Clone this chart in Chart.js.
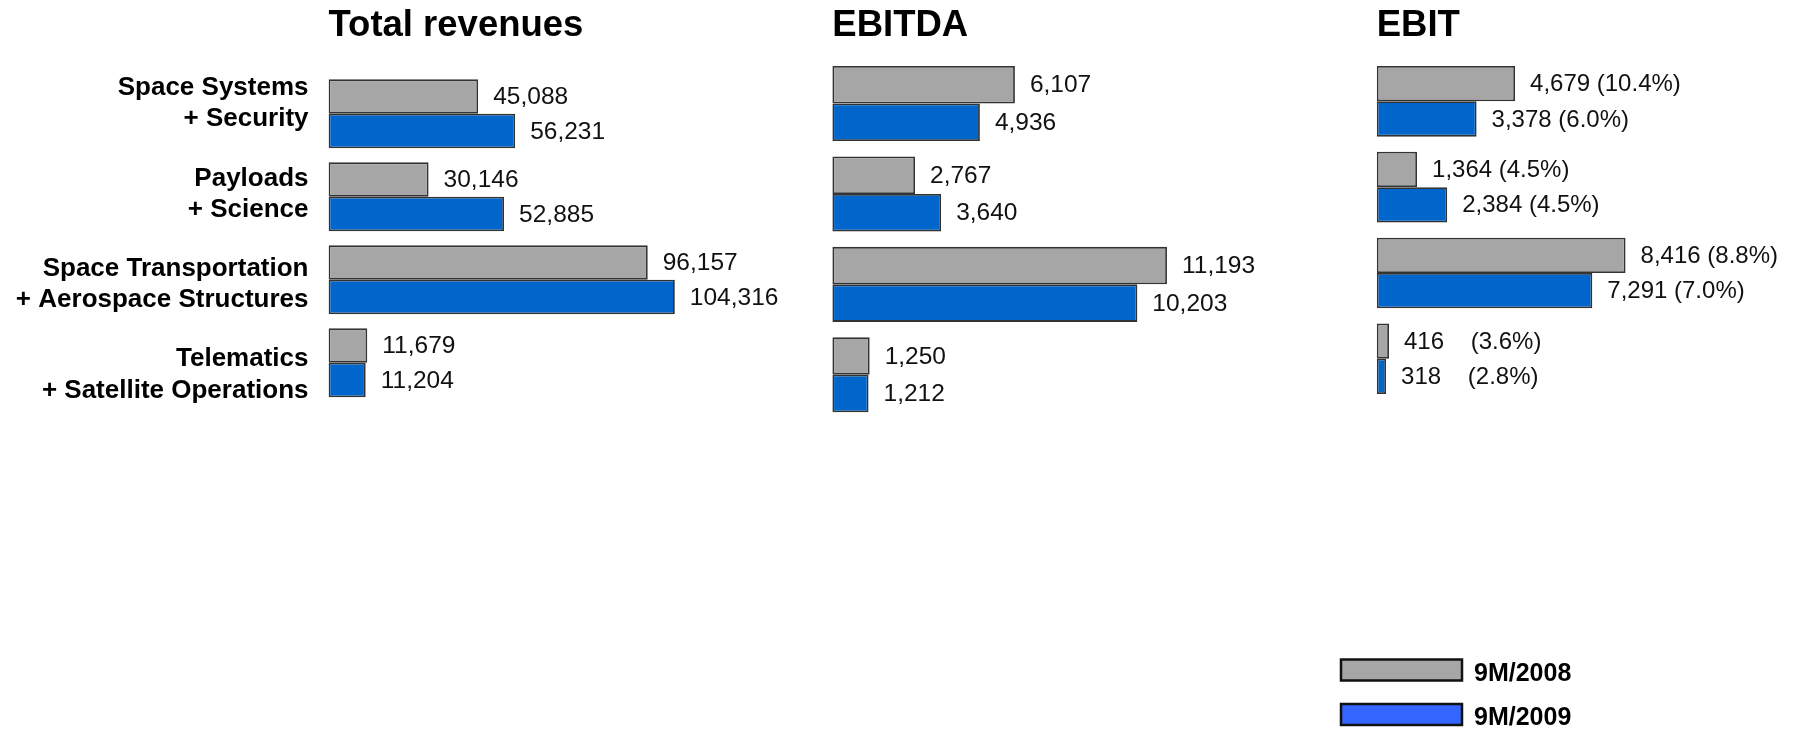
<!DOCTYPE html>
<html>
<head>
<meta charset="utf-8">
<script src="https://cdn.jsdelivr.net/npm/chart.js@4/dist/chart.umd.min.js"></script>
<style>
  html, body { margin: 0; padding: 0; background: #ffffff; }
  #wrap { position: relative; width: 1797px; height: 729px; overflow: hidden; }
  #wrap canvas { position: absolute; left: 0; top: 0; }
</style>
</head>
<body>
<div id="wrap">
  <canvas id="revenues" width="1797" height="729"></canvas>
  <canvas id="ebitda" width="1797" height="729"></canvas>
  <canvas id="ebit" width="1797" height="729"></canvas>
</div>
<script>
// Business segments (two-line labels) and the two reporting periods
const segments = [
  ['Space Systems', '+ Security'],
  ['Payloads', '+ Science'],
  ['Space Transportation', '+ Aerospace Structures'],
  ['Telematics', '+ Satellite Operations']
];
const periods = ['9M/2008', '9M/2009'];

// Figures per segment (same order as segments)
const revenue2008 = [45088, 30146, 96157, 11679];
const revenue2009 = [56231, 52885, 104316, 11204];
const ebitda2008 = [6107, 2767, 11193, 1250];
const ebitda2009 = [4936, 3640, 10203, 1212];
const ebit2008 = [4679, 1364, 8416, 416];
const ebit2009 = [3378, 2384, 7291, 318];
const ebitMargin2008 = [10.4, 4.5, 8.8, 3.6];
const ebitMargin2009 = [6.0, 4.5, 7.0, 2.8];

const W = 1797, H = 729;
const FONT = '"Liberation Sans", Arial, Helvetica, sans-serif';
const GREY = '#a6a6a6', BLUE = '#0066cc';
const LEGEND_COLORS = ['#a6a6a6', '#3366ff'];
const CATEGORY_RIGHT = 308.5;   // right edge of the segment names

const fmt = v => v.toLocaleString('en-US');

// Writes each bar's figure just past the end of the bar
const valueLabels = {
  id: 'valueLabels',
  afterDatasetsDraw(chart, args, opts) {
    const ctx = chart.ctx;
    ctx.save();
    ctx.font = `${opts.size}px ${FONT}`;
    ctx.fillStyle = '#111111';
    ctx.textAlign = 'left';
    ctx.textBaseline = 'middle';
    chart.data.datasets.forEach((ds, di) => {
      const meta = chart.getDatasetMeta(di);
      meta.data.forEach((bar, i) => {
        ctx.fillText(opts.text(di, i), bar.x + 15, bar.y + 1);
      });
    });
    ctx.restore();
  }
};

// Bold heading above each panel, aligned with the bars' base line
const panelTitle = {
  id: 'panelTitle',
  afterDraw(chart, args, opts) {
    const ctx = chart.ctx;
    ctx.save();
    ctx.font = `bold 36.5px ${FONT}`;
    ctx.fillStyle = '#000000';
    ctx.textAlign = 'left';
    ctx.textBaseline = 'alphabetic';
    ctx.fillText(opts.text, chart.chartArea.left, 36);
    ctx.restore();
  }
};

// Period key in the lower right corner
const periodKey = {
  id: 'periodKey',
  afterDraw(chart) {
    const ctx = chart.ctx;
    ctx.save();
    chart.data.datasets.forEach((ds, i) => {
      const y = 659.5 + i * 44.5;
      ctx.fillStyle = LEGEND_COLORS[i];
      ctx.fillRect(1341, y, 121, 21);
      ctx.lineWidth = 2.5;
      ctx.strokeStyle = '#111111';
      ctx.strokeRect(1341, y, 121, 21);
      ctx.font = `bold 25px ${FONT}`;
      ctx.fillStyle = '#000000';
      ctx.textBaseline = 'alphabetic';
      ctx.fillText(ds.label, 1474, y + 21);
    });
    ctx.restore();
  }
};

function barDataset(label, data, color) {
  return {
    label, data,
    backgroundColor: color,
    borderColor: '#333333',
    borderWidth: 1.8,
    borderSkipped: false,
    barPercentage: 1.0
  };
}

function panel(id, p) {
  const plotWidth = p.xMax * p.pxPerUnit;
  const showCats = !!p.showCategories;
  const yAxis = { display: false };
  if (showCats) {
    // segment names sit far to the left of this panel, right-aligned
    Object.assign(yAxis, {
      display: true,
      grid: { display: false, drawTicks: false, tickLength: 0 },
      border: { display: false },
      ticks: {
        padding: p.left - CATEGORY_RIGHT,
        color: '#000000',
        font: { family: FONT, size: 26, weight: 'bold', lineHeight: 1.2 }
      },
      afterFit(scale) {
        scale.width = p.left;
        scale.paddingTop = 0;
        scale.paddingBottom = 0;
      }
    });
  }
  return new Chart(document.getElementById(id), {
    type: 'bar',
    data: {
      labels: segments,
      datasets: [
        barDataset(periods[0], p.a, GREY),
        barDataset(periods[1], p.b, BLUE)
      ]
    },
    options: {
      indexAxis: 'y',
      responsive: false,
      animation: false,
      devicePixelRatio: 1,
      datasets: { bar: { categoryPercentage: p.catPct } },
      layout: {
        padding: {
          left: showCats ? 0 : p.left,
          right: W - p.left - plotWidth,
          top: p.top,
          bottom: H - p.bottom
        }
      },
      scales: {
        x: { display: false, min: 0, max: p.xMax },
        y: yAxis
      },
      plugins: {
        legend: { display: false },
        tooltip: { enabled: false },
        panelTitle: { text: p.title },
        valueLabels: { size: p.labelSize, text: p.label }
      }
    },
    plugins: [valueLabels, panelTitle].concat(p.extra || [])
  });
}

panel('revenues', {
  title: 'Total revenues',
  a: revenue2008, b: revenue2009,
  left: 328.5, pxPerUnit: 0.00332, xMax: 120000,
  top: 72.3, bottom: 404.3, catPct: 0.83,
  labelSize: 24.5,
  label: (di, i) => fmt((di ? revenue2009 : revenue2008)[i])
});

panel('ebitda', {
  title: 'EBITDA',
  a: ebitda2008, b: ebitda2009,
  left: 832.3, pxPerUnit: 0.0299, xMax: 14000,
  top: 58.3, bottom: 420, catPct: 0.83,
  labelSize: 24.5, showCategories: true,
  label: (di, i) => fmt((di ? ebitda2009 : ebitda2008)[i])
});

panel('ebit', {
  title: 'EBIT',
  a: ebit2008, b: ebit2009,
  left: 1376.7, pxPerUnit: 0.02957, xMax: 10000,
  top: 58.4, bottom: 401.7, catPct: 0.823,
  labelSize: 24,
  extra: [periodKey],
  label: (di, i) => {
    const v = fmt((di ? ebit2009 : ebit2008)[i]);
    const m = (di ? ebitMargin2009 : ebitMargin2008)[i].toFixed(1);
    // short figures keep the margin column lined up
    return v + (v.length < 5 ? '    ' : ' ') + '(' + m + '%)';
  }
});
</script>
</body>
</html>
